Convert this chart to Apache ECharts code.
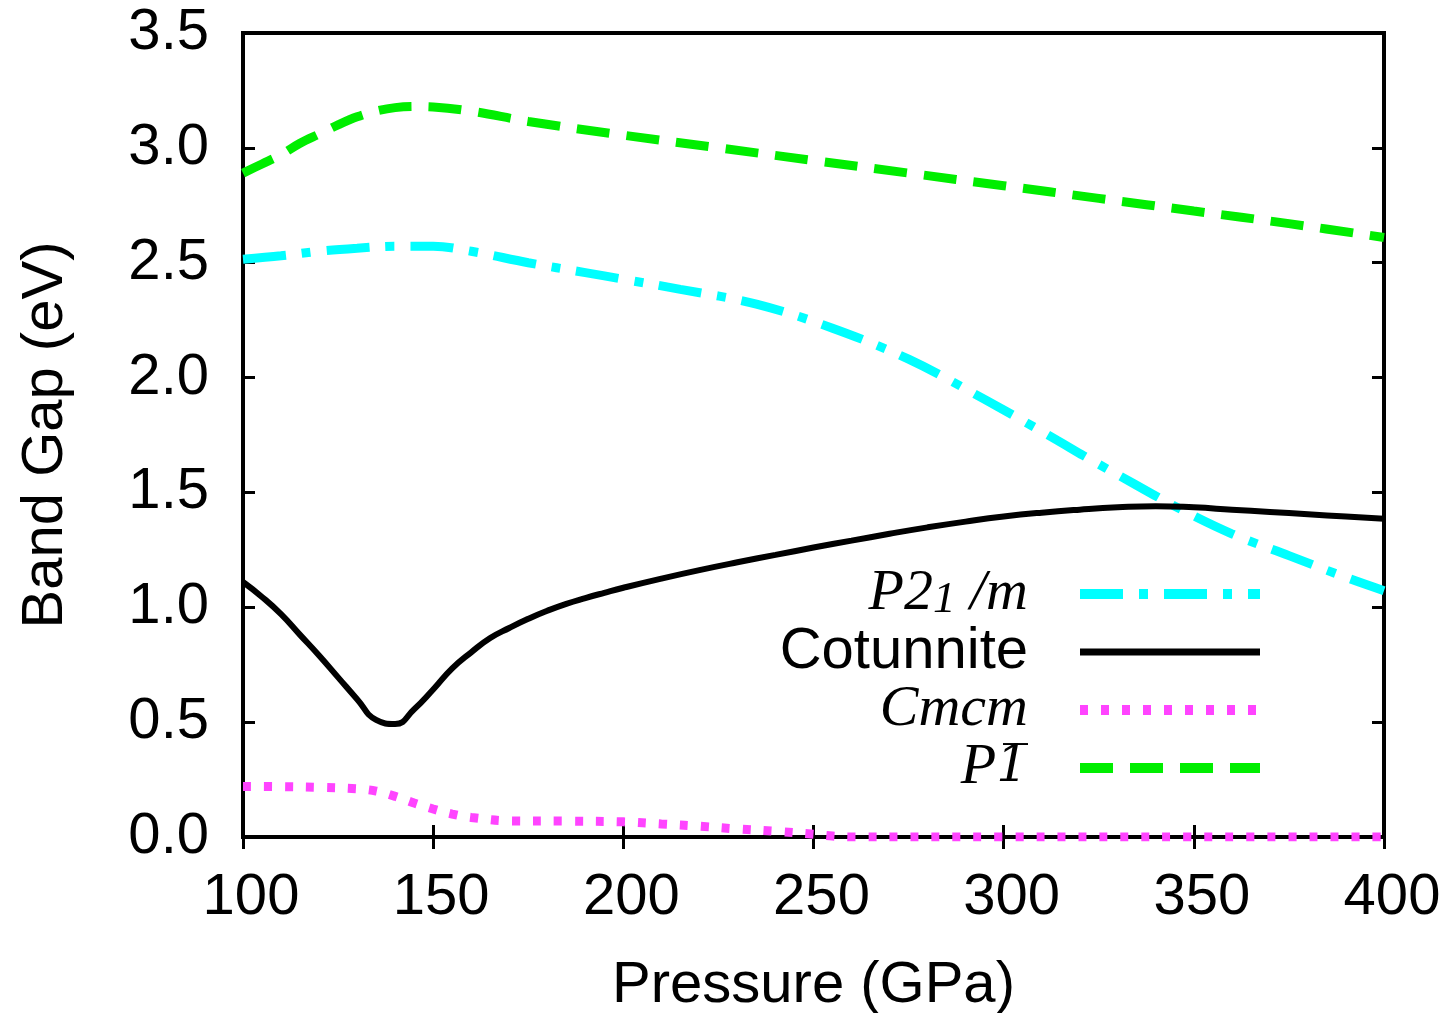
<!DOCTYPE html>
<html>
<head>
<meta charset="utf-8">
<script src="https://cdn.jsdelivr.net/npm/echarts@6/dist/echarts.min.js"></script>
<style>
html,body{margin:0;padding:0;background:#fff;}
#chart{width:1443px;height:1013px;}
</style>
</head>
<body>
<div id="chart"></div>
<script>
// ---- data ----
const xTicks = [100, 150, 200, 250, 300, 350, 400];
const yTicks = [0.0, 0.5, 1.0, 1.5, 2.0, 2.5, 3.0, 3.5];

const seriesNames = ['P21/m', 'Cotunnite', 'Cmcm', 'P-1'];

const p21mPressure = [100,110,120,130,140,150,160,175,190,200,215,235,255,275,295,314,321,334,345,360,375,390,400];
const p21mGap      = [2.515,2.53,2.55,2.563,2.572,2.572,2.55,2.50,2.457,2.428,2.384,2.32,2.215,2.08,1.905,1.728,1.66,1.54,1.44,1.32,1.225,1.13,1.072];

const cotPressure = [100,105,110,115,120,125,130,135,140,145,150,155,160,165,170,175,180,185,190,195,200,210,220,230,240,250,260,270,280,290,300,310,320,330,340,350,360,370,380,390,400];
const cotGap      = [1.11,1.045,0.97,0.88,0.79,0.695,0.60,0.51,0.492,0.556,0.642,0.734,0.804,0.866,0.91,0.95,0.985,1.015,1.04,1.063,1.085,1.125,1.162,1.196,1.228,1.26,1.29,1.32,1.348,1.373,1.395,1.412,1.425,1.435,1.44,1.435,1.425,1.415,1.405,1.395,1.385];

const cmcmPressure = [100,110,120,130,135,140,145,150,155,160,170,185,200,210,220,230,240,250,255,260,300,350,400];
const cmcmGap      = [0.22,0.219,0.216,0.21,0.2,0.177,0.148,0.122,0.1,0.085,0.07,0.069,0.066,0.057,0.047,0.035,0.025,0.012,0.004,0,0,0,0];

const p1Pressure = [100,105,110,115,120,125,130,135,140,145,150,160,175,200,225,250,275,300,325,350,375,400];
const p1Gap      = [2.89,2.93,2.97,3.02,3.06,3.10,3.135,3.16,3.175,3.18,3.178,3.16,3.115,3.055,3.0,2.945,2.89,2.835,2.78,2.725,2.67,2.61];

function pairs(xs, ys) { return xs.map((x, i) => [x, ys[i]]); }

const FS = 58;
const sans = "'Liberation Sans', Arial, Helvetica, sans-serif";
const serif = "'Liberation Serif', 'Times New Roman', serif";

const styles = {
  'P21/m':     {color: '#00ffff', width: 9, type: [43, 16, 9, 16]},
  'Cotunnite': {color: '#000000', width: 6, type: 'solid'},
  'Cmcm':      {color: '#ff44ff', width: 9, type: [8, 13]},
  'P-1':       {color: '#00ee00', width: 9, type: [33, 17]}
};
const legendWidths = {'P21/m': 10, 'Cotunnite': 7, 'Cmcm': 10, 'P-1': 10};

const chart = echarts.init(document.getElementById('chart'), null, {renderer: 'canvas'});

const tickCommon = {show: true, inside: true, length: 12, lineStyle: {color: '#000', width: 3}};

const option = {
  animation: false,
  backgroundColor: '#fff',
  grid: {
    left: 243, right: 59, top: 33, bottom: 176,
    show: true, borderColor: '#000', borderWidth: 4, backgroundColor: 'transparent',
    outerBoundsMode: 'none'
  },
  xAxis: [
    {
      type: 'value', min: xTicks[0], max: xTicks[xTicks.length - 1], interval: 50,
      position: 'bottom',
      name: 'Pressure (GPa)', nameLocation: 'middle', nameGap: 120,
      nameTextStyle: {fontFamily: sans, fontSize: FS, color: '#000'},
      axisLine: {show: false},
      axisTick: tickCommon,
      splitLine: {show: false},
      axisLabel: {fontFamily: sans, fontSize: FS, color: '#000', margin: 32, padding: [0, 0, 0, 16],
        showMinLabel: true, showMaxLabel: true}
    },
    {
      type: 'value', min: xTicks[0], max: xTicks[xTicks.length - 1], interval: 50,
      position: 'top',
      axisLine: {show: false},
      axisTick: tickCommon,
      splitLine: {show: false},
      axisLabel: {show: false}
    }
  ],
  yAxis: [
    {
      type: 'value', min: yTicks[0], max: yTicks[yTicks.length - 1], interval: 0.5,
      position: 'left',
      name: 'Band Gap (eV)', nameLocation: 'middle', nameGap: 168, nameRotate: 90,
      nameTextStyle: {fontFamily: sans, fontSize: FS, color: '#000'},
      axisLine: {show: false},
      axisTick: tickCommon,
      splitLine: {show: false},
      axisLabel: {fontFamily: sans, fontSize: FS, color: '#000', margin: 34,
        formatter: v => v.toFixed(1)}
    },
    {
      type: 'value', min: yTicks[0], max: yTicks[yTicks.length - 1], interval: 0.5,
      position: 'right',
      axisLine: {show: false},
      axisTick: tickCommon,
      splitLine: {show: false},
      axisLabel: {show: false}
    }
  ],
  legend: {
    orient: 'vertical',
    right: 173,
    top: 560,
    align: 'right',
    itemWidth: 180,
    itemHeight: 14,
    itemGap: 0,
    itemStyle: {opacity: 0, color: 'transparent', borderWidth: 0},
    data: seriesNames.map(n => ({
      name: n,
      itemStyle: {opacity: 0, color: 'transparent', borderWidth: 0},
      lineStyle: {width: legendWidths[n], type: styles[n].type, color: styles[n].color}
    })),
    formatter: function (name) {
      if (name === 'P21/m') return '{it|P2}{sub|1}{it| /m}';
      if (name === 'Cotunnite') return '{sans|Cotunnite}';
      if (name === 'Cmcm') return '{it|Cmcm}';
      return '{it|P}{ov|1\u0305}';
    },
    textStyle: {
      padding: [0, 47, 0, 0],
      rich: {
        it: {fontFamily: serif, fontStyle: 'italic', fontSize: FS, color: '#000', lineHeight: 58},
        ov: {fontFamily: "'DejaVu Serif', serif", fontStyle: 'italic', fontSize: 50, color: '#000', lineHeight: 58},
        sub: {fontFamily: serif, fontStyle: 'italic', fontSize: 45, color: '#000', lineHeight: 12, verticalAlign: 'bottom'},
        sans: {fontFamily: sans, fontSize: FS, color: '#000', lineHeight: 58}
      }
    }
  },
  series: seriesNames.map(n => ({
    name: n, type: 'line',
    data: n === 'P21/m' ? pairs(p21mPressure, p21mGap)
        : n === 'Cotunnite' ? pairs(cotPressure, cotGap)
        : n === 'Cmcm' ? pairs(cmcmPressure, cmcmGap)
        : pairs(p1Pressure, p1Gap),
    showSymbol: false, symbol: 'none', smooth: n === 'Cotunnite' ? 0.5 : 0.35,
    lineStyle: {color: styles[n].color, width: styles[n].width, type: styles[n].type},
    itemStyle: {color: styles[n].color}
  }))
};
chart.setOption(option);
</script>
</body>
</html>
